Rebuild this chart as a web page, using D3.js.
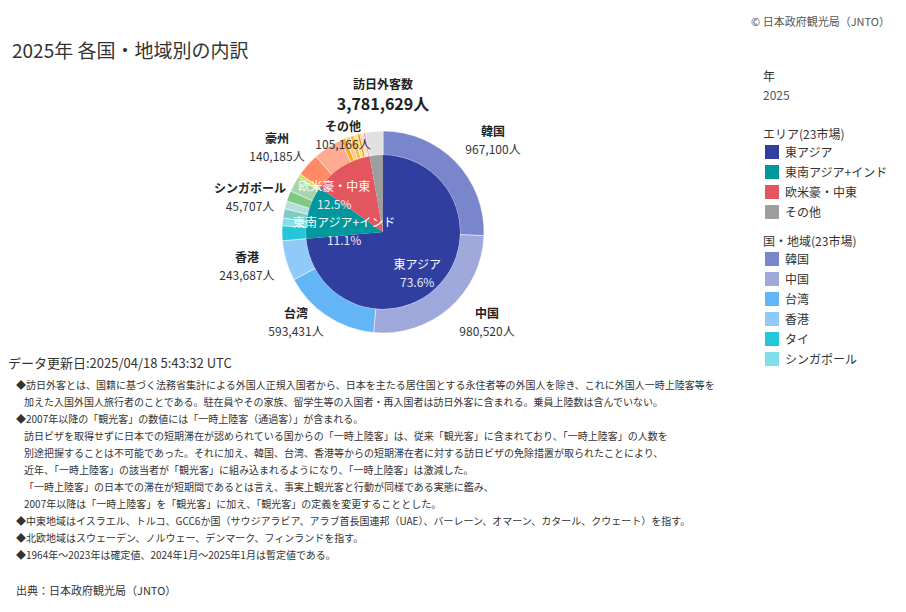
<!DOCTYPE html>
<html><head><meta charset="utf-8">
<script src="https://cdn.jsdelivr.net/npm/d3@7"></script>
<style>body{margin:0;background:#fff;font-family:"Noto Sans CJK JP","Noto Sans",sans-serif;}</style>
</head><body>
<svg id="c" width="906" height="612"></svg>
<script>
// エリア (inner pie)
var areas = ["東アジア","東南アジア+インド","欧米豪・中東","その他"];
var areaColors = ["#303f9f","#00979d","#e3565f","#9e9e9e"];
// 国・地域 (outer ring)
var countries = ["韓国","中国","台湾","香港","タイ","シンガポール","マレーシア","インドネシア","フィリピン","ベトナム","インド",
  "豪州","米国","カナダ","英国","フランス","ドイツ","イタリア","スペイン","ロシア","北欧地域","中東地域","その他"];
var visitors = [967100,980520,593431,243687,90000,45707,56400,47400,63600,94200,22500,
  140185,178000,30000,30000,25000,20000,14000,10000,6000,8000,11500,105166];
var countryArea = [0,0,0,0,1,1,1,1,1,1,1,2,2,2,2,2,2,2,2,2,2,2,3];
var countryColors = ["#7986cb","#9fa8da","#64b5f6","#90caf9","#26c6da","#80deea","#80cbc4","#b2dfdb","#81c784","#a5d6a7","#d4e157",
  "#ff8a65","#ffab91","#ffa726","#ffcc80","#ffb74d","#ffe082","#fb8c00","#fdd835","#f48fb1","#f8bbd0","#ce93d8","#e0e0e0"];
var labelled = ["韓国","中国","台湾","香港","シンガポール","豪州","その他"];
var total = 3781629;

var svg = d3.select("#c");
svg.append("text").attr("x",890).attr("y",26).attr("text-anchor","end").attr("font-size",11).attr("fill","#555").text("© 日本政府観光局（JNTO）");
svg.append("text").attr("x",12).attr("y",58).attr("font-size",19).attr("fill","#333").text("2025年 各国・地域別の内訳");

var cx = 383, cy = 232, rIn = 77, rOut = 101;
var g = svg.append("g").attr("transform","translate("+cx+","+cy+")");

var areaVals = areas.map(function(a,i){ return d3.sum(visitors.filter(function(v,j){return countryArea[j]===i;})); });
var pie = d3.pie().sort(null).value(function(d){return d;});

var arcIn = d3.arc().innerRadius(0).outerRadius(rIn);
var arcOut = d3.arc().innerRadius(rIn).outerRadius(rOut);

var outer = pie(visitors);
g.selectAll("path.o").data(outer).join("path").attr("class","o")
  .attr("d",arcOut).attr("fill",function(d,i){return countryColors[i];}).attr("stroke","#fff").attr("stroke-width",0.5);
var inner = pie(areaVals);
g.selectAll("path.i").data(inner).join("path").attr("class","i")
  .attr("d",arcIn).attr("fill",function(d,i){return areaColors[i];});

// inner labels
var fmtPct = d3.format(".1%");
var labArc = d3.arc().innerRadius(rIn*0.55).outerRadius(rIn*0.55);
var innerShift = [[3,8],[2,6],[-26,-5]];
inner.slice(0,3).forEach(function(d,i){
  var c = labArc.centroid(d);
  c = [c[0]+innerShift[i][0], c[1]+innerShift[i][1]];
  var t = g.append("text").attr("text-anchor","middle").attr("fill","#fff").attr("font-size",12);
  t.append("tspan").attr("x",c[0]).attr("y",c[1]).text(areas[i]);
  t.append("tspan").attr("x",c[0]).attr("y",c[1]+18).attr("fill","#e8e8f8").text(fmtPct(d.value/total));
});

// outer labels
var outArc = d3.arc().innerRadius(142).outerRadius(142);
var fmt = d3.format(",");
var fixed = {"韓国":[110,-96],"その他":[-40,-101],"豪州":[-106,-89],"シンガポール":[-133,-39],"台湾":[-87,86],"中国":[104,86]};
outer.forEach(function(d,i){
  if(labelled.indexOf(countries[i])<0) return;
  var c = outArc.centroid(d);
  c = fixed[countries[i]] || [c[0], c[1]-10];
  var t = g.append("text").attr("text-anchor","middle").attr("font-size",12).attr("fill","#333");
  t.append("tspan").attr("x",c[0]).attr("y",c[1]).attr("font-weight","bold").attr("fill","#222").text(countries[i]);
  t.append("tspan").attr("x",c[0]).attr("y",c[1]+18).text(fmt(d.value)+"人");
});

svg.append("text").attr("x",cx).attr("y",89).attr("text-anchor","middle").attr("font-size",12).attr("font-weight","bold").attr("fill","#222").text("訪日外客数");
svg.append("text").attr("x",cx).attr("y",110).attr("text-anchor","middle").attr("font-size",16).attr("font-weight","bold").attr("fill","#222").text(fmt(total)+"人");

// legend
var lg = svg.append("g").attr("font-size",12).attr("fill","#333");
lg.append("text").attr("x",763).attr("y",81).text("年");
lg.append("text").attr("x",763).attr("y",100).attr("fill","#555").text("2025");
lg.append("text").attr("x",763).attr("y",139).text("エリア(23市場)");
areas.forEach(function(a,i){
  lg.append("rect").attr("x",765).attr("y",145+i*20).attr("width",14).attr("height",14).attr("fill",areaColors[i]);
  lg.append("text").attr("x",785).attr("y",157+i*20).text(a);
});
lg.append("text").attr("x",763).attr("y",246).text("国・地域(23市場)");
countries.slice(0,6).forEach(function(a,i){
  lg.append("rect").attr("x",765).attr("y",252+i*20).attr("width",14).attr("height",14).attr("fill",countryColors[i]);
  lg.append("text").attr("x",785).attr("y",264+i*20).text(a);
});

// notes
svg.append("text").attr("x",8).attr("y",368).attr("font-size",13).attr("fill","#333").text("データ更新日:2025/04/18 5:43:32 UTC");
var notes = [
 [16,"◆訪日外客とは、国籍に基づく法務省集計による外国人正規入国者から、日本を主たる居住国とする永住者等の外国人を除き、これに外国人一時上陸客等を"],
 [24,"加えた入国外国人旅行者のことである。駐在員やその家族、留学生等の入国者・再入国者は訪日外客に含まれる。乗員上陸数は含んでいない。"],
 [16,"◆2007年以降の「観光客」の数値には「一時上陸客（通過客）」が含まれる。"],
 [24,"訪日ビザを取得せずに日本での短期滞在が認められている国からの「一時上陸客」は、従来「観光客」に含まれており、「一時上陸客」の人数を"],
 [24,"別途把握することは不可能であった。それに加え、韓国、台湾、香港等からの短期滞在者に対する訪日ビザの免除措置が取られたことにより、"],
 [24,"近年、「一時上陸客」の該当者が「観光客」に組み込まれるようになり、「一時上陸客」は激減した。"],
 [24,"「一時上陸客」の日本での滞在が短期間であるとは言え、事実上観光客と行動が同様である実態に鑑み、"],
 [24,"2007年以降は「一時上陸客」を「観光客」に加え、「観光客」の定義を変更することとした。"],
 [16,"◆中東地域はイスラエル、トルコ、GCC6か国（サウジアラビア、アラブ首長国連邦（UAE）、バーレーン、オマーン、カタール、クウェート）を指す。"],
 [16,"◆北欧地域はスウェーデン、ノルウェー、デンマーク、フィンランドを指す。"],
 [16,"◆1964年～2023年は確定値、2024年1月～2025年1月は暫定値である。"]
];
notes.forEach(function(n,i){
  svg.append("text").attr("x",n[0]).attr("y",389+i*17).attr("font-size",10).attr("fill","#333").text(n[1]);
});
svg.append("text").attr("x",16).attr("y",595).attr("font-size",11).attr("fill","#333").text("出典：日本政府観光局（JNTO）");
</script>
</body></html>
